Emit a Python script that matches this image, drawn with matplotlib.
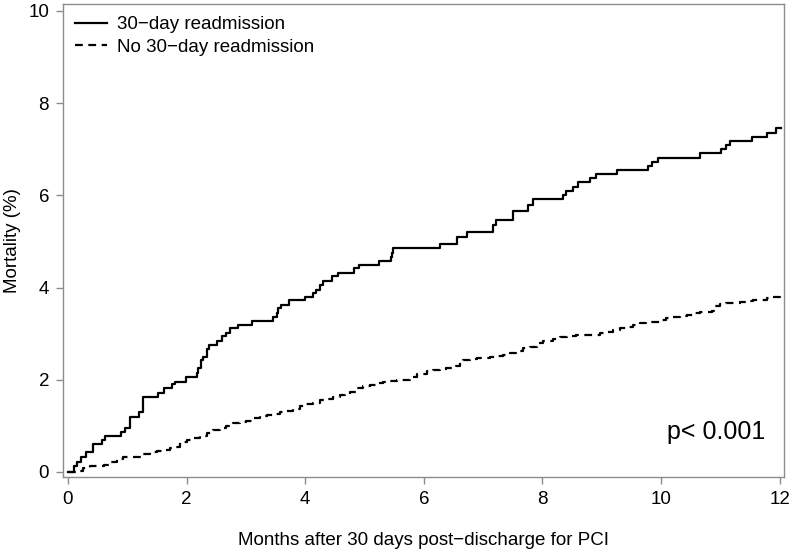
import numpy as np
import matplotlib
matplotlib.use('Agg')
import matplotlib.pyplot as plt

plt.rcParams['font.family'] = ['Liberation Sans', 'DejaVu Sans']

# Kaplan-Meier style cumulative mortality (%)
readmit_t = [0.00, 0.10, 0.16, 0.22, 0.31, 0.43, 0.57, 0.62, 0.90, 0.96,
             1.04, 1.19, 1.27, 1.52, 1.62, 1.75, 1.80, 1.99, 2.17, 2.20,
             2.25, 2.28, 2.34, 2.37, 2.51, 2.59, 2.67, 2.73, 2.87, 3.10,
             3.46, 3.52, 3.54, 3.59, 3.73, 3.99, 4.13, 4.19, 4.25, 4.30,
             4.46, 4.56, 4.82, 4.91, 5.25, 5.44, 5.47, 5.48, 6.27, 6.56,
             6.73, 7.17, 7.21, 7.50, 7.76, 7.84, 8.34, 8.40, 8.51, 8.60,
             8.80, 8.90, 9.26, 9.78, 9.85, 9.95, 10.65, 11.01, 11.10, 11.17,
             11.54, 11.78, 11.93, 12.02]
readmit_y = [0.00, 0.12, 0.22, 0.33, 0.44, 0.60, 0.69, 0.78, 0.87, 0.95,
             1.20, 1.31, 1.63, 1.72, 1.81, 1.90, 1.96, 2.07, 2.15, 2.25,
             2.43, 2.50, 2.66, 2.75, 2.85, 2.94, 3.02, 3.12, 3.19, 3.28,
             3.37, 3.44, 3.55, 3.62, 3.72, 3.79, 3.88, 3.95, 4.06, 4.14,
             4.24, 4.32, 4.42, 4.49, 4.58, 4.67, 4.74, 4.85, 4.94, 5.10,
             5.20, 5.36, 5.47, 5.65, 5.79, 5.92, 6.01, 6.10, 6.19, 6.28,
             6.37, 6.46, 6.55, 6.64, 6.73, 6.80, 6.91, 7.00, 7.09, 7.18,
             7.27, 7.36, 7.46, 7.46]

no_readmit_t = [0.00, 0.15, 0.26, 0.37, 0.48, 0.60, 0.71, 0.82, 0.93, 1.04,
                1.27, 1.38, 1.50, 1.61, 1.72, 1.80, 1.89, 2.00, 2.11, 2.22,
                2.34, 2.45, 2.56, 2.67, 2.79, 2.90, 3.01, 3.12, 3.24, 3.35,
                3.46, 3.57, 3.69, 3.80, 3.91, 4.02, 4.13, 4.25, 4.36, 4.47,
                4.58, 4.67, 4.75, 4.87, 4.98, 5.09, 5.20, 5.31, 5.43, 5.54,
                5.76, 5.88, 6.05, 6.16, 6.27, 6.38, 6.50, 6.55, 6.61, 6.66,
                6.77, 6.89, 7.00, 7.11, 7.22, 7.34, 7.45, 7.56, 7.68, 7.79,
                7.90, 8.01, 8.13, 8.18, 8.29, 8.41, 8.57, 8.85, 8.97, 9.08,
                9.19, 9.30, 9.42, 9.53, 9.64, 9.75, 9.87, 9.98, 10.09, 10.20,
                10.32, 10.43, 10.54, 10.65, 10.77, 10.85, 10.91, 10.99, 11.10, 11.21,
                11.33, 11.44, 11.55, 11.66, 11.78, 11.89, 12.00]
no_readmit_y = [0.00, 0.03, 0.08, 0.12, 0.13, 0.15, 0.22, 0.27, 0.32, 0.33,
                0.40, 0.44, 0.46, 0.48, 0.51, 0.55, 0.64, 0.69, 0.74, 0.79,
                0.84, 0.90, 0.96, 1.00, 1.06, 1.08, 1.11, 1.16, 1.21, 1.24,
                1.25, 1.29, 1.33, 1.36, 1.42, 1.47, 1.50, 1.56, 1.58, 1.62,
                1.66, 1.69, 1.74, 1.81, 1.87, 1.89, 1.92, 1.96, 1.98, 2.00,
                2.07, 2.13, 2.18, 2.21, 2.23, 2.25, 2.27, 2.30, 2.39, 2.43,
                2.44, 2.47, 2.48, 2.49, 2.52, 2.54, 2.57, 2.63, 2.68, 2.70,
                2.79, 2.83, 2.85, 2.88, 2.92, 2.94, 2.96, 2.97, 3.01, 3.04,
                3.08, 3.12, 3.15, 3.19, 3.22, 3.25, 3.26, 3.30, 3.33, 3.37,
                3.38, 3.41, 3.44, 3.46, 3.48, 3.50, 3.59, 3.64, 3.66, 3.67,
                3.69, 3.71, 3.72, 3.73, 3.77, 3.79, 3.82]

x_ticks = [0, 2, 4, 6, 8, 10, 12]
y_ticks = [0, 2, 4, 6, 8, 10]

fig = plt.figure(figsize=(7.95, 5.53), dpi=100)
ax = fig.add_axes([0.0792, 0.1374, 0.9068, 0.8554])

ax.plot(readmit_t, readmit_y, drawstyle='steps-post', color='black',
        lw=1.6, label='30\u2212day readmission')
ax.plot(no_readmit_t, no_readmit_y, drawstyle='steps-post', color='black',
        lw=1.6, linestyle=(0, (3.5, 2.5)), label='No 30\u2212day readmission')

ax.set_xlim(-0.084, 12.07)
ax.set_ylim(-0.11, 10.15)
ax.set_xticks(x_ticks)
ax.set_yticks(y_ticks)

for s in ax.spines.values():
    s.set_color('#8c8c8c')
    s.set_linewidth(1.0)
ax.tick_params(direction='out', length=5, width=1, color='#8c8c8c',
               labelsize=13.5, labelcolor='black', pad=5)

ax.set_xlabel('Months after 30 days post\u2212discharge for PCI', fontsize=13.5, labelpad=17)
ax.set_ylabel('Mortality (%)', fontsize=13.5, labelpad=5)

ax.legend(loc='upper left', frameon=False, fontsize=13.5, handlelength=1.7,
          handletextpad=0.55, borderaxespad=0.35, labelspacing=0.3,
          borderpad=0.3)

ax.text(0.974, 0.095, 'p< 0.001', transform=ax.transAxes, ha='right',
        va='center', fontsize=18)

fig.savefig('out.png', dpi=100)
